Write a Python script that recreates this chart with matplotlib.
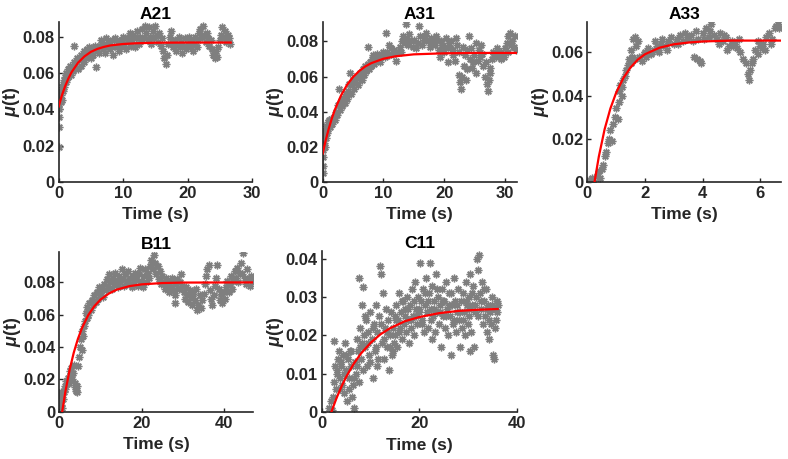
import matplotlib
matplotlib.use("Agg")
import matplotlib.pyplot as plt
from matplotlib.ticker import FuncFormatter

plt.rcParams['font.family'] = ['Liberation Sans', 'DejaVu Sans']
plt.rcParams['font.weight'] = 'bold'
plt.rcParams['mathtext.fontset'] = 'custom'
plt.rcParams['mathtext.rm'] = 'Liberation Sans:bold'
plt.rcParams['mathtext.it'] = 'Liberation Sans:italic:bold'

# ---------------- data ----------------
titles = ["A21", "A31", "A33", "B11", "C11"]

a21_pts = [(0,0.019),(0,0.030),(0.05,0.036),(0.1,0.040),(0.1,0.043),(0.2,0.046),(0.2,0.050),(0.3,0.044),
 (0.4,0.048),(0.5,0.052),(0.5,0.045),(0.6,0.054),(0.7,0.050),(0.8,0.056),(0.9,0.052),(1.0,0.058),(1.1,0.055),
 (1.2,0.060),(1.3,0.057),(1.4,0.062),(1.5,0.058),(1.6,0.061),(1.8,0.064),(1.9,0.059),(2.0,0.063),(2.2,0.061),
 (2.4,0.075),(2.4,0.066),(2.6,0.064),(2.8,0.068),(3.0,0.062),(3.2,0.067),(3.4,0.070),(3.5,0.064),(3.7,0.069),
 (3.9,0.066),(4.0,0.072),(4.2,0.068),(4.4,0.073),(4.5,0.070),(4.7,0.074),(4.9,0.071),(5.0,0.068),(5.2,0.073),
 (5.4,0.070),(5.6,0.075),(5.8,0.063),(6.0,0.072),(6.2,0.071),(6.4,0.075),(6.6,0.078),(6.8,0.073),(7.0,0.076),
 (7.2,0.071),(7.4,0.079),(7.6,0.074),(7.8,0.077),(8.0,0.073),(8.2,0.078),(8.4,0.070),(8.6,0.075),(8.8,0.079),
 (9.0,0.074),(9.2,0.077),(9.4,0.072),(9.6,0.078),(9.8,0.075),(10.0,0.080),(10.2,0.076),(10.4,0.073),(10.6,0.079),
 (10.8,0.077),(11.0,0.082),(11.2,0.075),(11.4,0.078),(11.6,0.081),(11.8,0.074),(12.0,0.079),(12.2,0.083),
 (12.4,0.076),(12.6,0.080),(12.8,0.078),(13.0,0.084),(13.2,0.079),(13.4,0.086),(13.6,0.082),(13.8,0.078),
 (14.0,0.085),(14.2,0.080),(14.4,0.076),(14.6,0.083),(14.8,0.079),(15.0,0.086),(15.2,0.081),(15.4,0.077),
 (15.6,0.082),(15.8,0.075),(16.0,0.079),(16.2,0.072),(16.4,0.068),(16.6,0.065),(16.8,0.070),(17.0,0.076),
 (17.2,0.080),(17.4,0.083),(17.6,0.077),(17.8,0.074),(18.0,0.078),(18.2,0.072),(18.4,0.076),(18.6,0.080),
 (18.8,0.074),(19.0,0.077),(19.2,0.071),(19.4,0.075),(19.6,0.079),(19.8,0.073),(20.0,0.076),(20.2,0.080),
 (20.4,0.074),(20.6,0.078),(20.8,0.072),(21.0,0.076),(21.2,0.080),(21.4,0.074),(21.6,0.078),(21.8,0.082),
 (22.0,0.084),(22.2,0.080),(22.4,0.086),(22.6,0.081),(22.8,0.077),(23.0,0.082),(23.2,0.079),(23.4,0.075),
 (23.6,0.078),(23.8,0.073),(24.0,0.070),(24.2,0.068),(24.4,0.072),(24.6,0.069),(24.8,0.074),(25.0,0.078),
 (25.2,0.081),(25.4,0.085),(25.6,0.079),(25.8,0.083),(26.0,0.077),(26.2,0.081),(26.4,0.079),(26.6,0.076)]
a21_fit_t = [0, 0.5, 1, 1.5, 2, 3, 4, 5, 6, 7, 8, 10, 12, 15, 20, 26.7]
a21_fit_y = [0.0415, 0.0477, 0.0527, 0.0569, 0.0604, 0.0656, 0.0691, 0.0716, 0.0732, 0.0743, 0.0751,
             0.0759, 0.0763, 0.0766, 0.0767, 0.0767]

a31_pts = [(0,0.005),(0,0.009),(0.05,0.014),(0.1,0.018),(0.15,0.022),(0.2,0.026),(0.3,0.020),(0.4,0.029),
 (0.5,0.025),(0.6,0.032),(0.7,0.028),(0.8,0.034),(0.9,0.030),(1.0,0.035),(1.2,0.031),(1.4,0.036),(1.6,0.033),
 (1.8,0.037),(2.0,0.035),(2.2,0.040),(2.4,0.038),(2.6,0.044),(2.7,0.053),(2.8,0.041),(3.0,0.046),(3.2,0.043),
 (3.4,0.048),(3.6,0.045),(3.8,0.050),(4.0,0.047),(4.2,0.052),(4.4,0.056),(4.5,0.062),(4.6,0.050),(4.8,0.055),
 (5.0,0.058),(5.2,0.053),(5.4,0.057),(5.6,0.060),(5.8,0.055),(6.0,0.059),(6.2,0.062),(6.4,0.058),(6.6,0.064),
 (6.8,0.061),(7.0,0.066),(7.2,0.063),(7.4,0.067),(7.5,0.077),(7.6,0.064),(7.8,0.068),(8.0,0.066),(8.2,0.070),
 (8.4,0.067),(8.6,0.071),(8.8,0.069),(9.0,0.073),(9.3,0.070),(9.6,0.072),(9.9,0.074),(10.2,0.071),(10.5,0.085),
 (10.6,0.074),(10.9,0.072),(11.2,0.076),(11.5,0.073),(11.8,0.075),(12.1,0.069),(12.4,0.074),(12.7,0.077),
 (13.0,0.080),(13.2,0.083),(13.5,0.079),(13.7,0.090),(13.9,0.082),(14.2,0.084),(14.5,0.080),(14.8,0.077),
 (15.1,0.081),(15.4,0.076),(15.7,0.079),(15.9,0.089),(16.1,0.083),(16.4,0.078),(16.7,0.081),(17.0,0.085),
 (17.3,0.080),(17.6,0.077),(17.9,0.082),(18.2,0.080),(18.5,0.078),(18.8,0.081),(19.1,0.075),(19.4,0.071),
 (19.7,0.078),(20.0,0.074),(20.3,0.082),(20.6,0.068),(20.9,0.076),(21.2,0.080),(21.5,0.072),(21.8,0.069),
 (22.1,0.078),(22.4,0.061),(22.6,0.057),(22.8,0.053),(23.0,0.060),(23.2,0.066),(23.4,0.072),(23.6,0.058),
 (23.8,0.075),(24.1,0.083),(24.3,0.070),(24.6,0.065),(24.9,0.072),(25.2,0.062),(25.5,0.069),(25.8,0.075),
 (26.1,0.078),(26.4,0.066),(26.7,0.060),(27.0,0.056),(27.2,0.052),(27.4,0.058),(27.6,0.065),(27.9,0.070),
 (28.2,0.073),(28.5,0.071),(28.8,0.074),(29.1,0.072),(29.4,0.070),(29.7,0.073),(30.0,0.076),(30.3,0.079),
 (30.6,0.083),(30.9,0.085),(31.2,0.080),(31.5,0.077),(31.8,0.075),
 (19.5,0.080),(20.1,0.077),(20.8,0.079),(21.4,0.075),(22.0,0.082),(22.5,0.074),(23.1,0.077),(23.7,0.064),
 (24.4,0.076),(24.8,0.068),(25.3,0.079),(25.9,0.071),(26.2,0.073),(26.9,0.068),(27.5,0.062),(28.0,0.074),
 (28.7,0.076),(29.3,0.074),(29.9,0.071),(30.5,0.074),(31.0,0.078),(31.6,0.083),(16.9,0.083),(17.8,0.079),
 (18.6,0.083),(14.0,0.078),(12.9,0.074),(11.0,0.078),(9.5,0.068),(8.3,0.072)]
a31_fit_t = [0, 0.5, 1, 1.5, 2, 3, 4, 5, 6, 7, 8, 10, 12, 15, 20, 25, 32]
a31_fit_y = [0.0162, 0.0238, 0.0304, 0.0361, 0.0411, 0.0491, 0.0552, 0.0597, 0.0631, 0.0657, 0.0676,
             0.0701, 0.0715, 0.0726, 0.0732, 0.0734, 0.0734]

a33_pts = [(0.05,0.001),(0.1,0.0),(0.15,0.002),(0.2,0.001),(0.35,0.003),(0.4,0.005),(0.45,0.002),(0.5,0.006),
 (0.55,0.008),(0.6,0.012),(0.65,0.014),(0.7,0.018),(0.75,0.020),(0.8,0.024),(0.85,0.019),(0.9,0.027),
 (0.95,0.030),(1.0,0.034),(1.05,0.029),(1.1,0.037),(1.1,0.042),(1.15,0.045),(1.2,0.044),(1.25,0.047),
 (1.3,0.049),(1.35,0.052),(1.4,0.054),(1.45,0.057),(1.5,0.061),(1.55,0.058),(1.6,0.066),(1.65,0.067),
 (1.7,0.063),(1.75,0.065),(1.65,0.057),(1.8,0.058),(1.9,0.056),(1.95,0.059),(2.0,0.060),(2.1,0.062),
 (2.2,0.059),(2.3,0.061),(2.35,0.065),(2.4,0.063),(2.5,0.060),(2.55,0.064),(2.6,0.066),(2.7,0.063),
 (2.8,0.065),(2.9,0.067),(3.0,0.064),(3.1,0.066),(3.2,0.068),(3.3,0.065),(3.4,0.069),(3.5,0.067),
 (3.7,0.058),(3.8,0.057),(3.9,0.056),(3.95,0.055),(3.6,0.068),(3.75,0.070),(3.85,0.066),(4.0,0.069),
 (4.1,0.071),(4.2,0.067),(4.3,0.073),(4.4,0.068),(4.5,0.066),(4.6,0.069),(4.7,0.065),(4.8,0.067),
 (4.85,0.061),(4.9,0.063),(5.0,0.065),(5.1,0.064),(5.2,0.062),(5.3,0.060),(5.4,0.057),(5.5,0.055),
 (5.55,0.050),(5.6,0.047),(5.65,0.052),(5.75,0.057),(5.8,0.061),(5.9,0.059),(5.9,0.065),(6.0,0.063),
 (6.05,0.062),(6.1,0.064),(6.2,0.067),(6.3,0.069),(6.4,0.066),(6.5,0.071),(6.55,0.072),(6.6,0.073),
 (6.65,0.071),
 (1.2,0.040),(1.5,0.055),(2.05,0.058),(2.25,0.060),(2.45,0.062),(2.75,0.061),(3.15,0.064),(3.45,0.066),
 (3.65,0.065),(4.05,0.066),(4.25,0.070),(4.55,0.064),(4.75,0.068),(5.05,0.063),(5.25,0.066),(5.7,0.055),
 (6.15,0.061),(6.35,0.064)]
a33_fit_t = [0.25, 0.4, 0.6, 0.8, 1.0, 1.25, 1.5, 1.75, 2.0, 2.5, 3.0, 3.5, 4.0, 5.0, 6.7]
a33_fit_y = [0.0, 0.0118, 0.0244, 0.0340, 0.0413, 0.0481, 0.0530, 0.0566, 0.0591, 0.0621, 0.0637,
             0.0645, 0.0650, 0.0654, 0.0654]

b11_pts = [(0.1,0.010),(0.2,0.006),(0.3,0.012),(0.5,0.004),(0.7,0.002),(0.9,0.008),(1.1,0.012),(1.3,0.016),
 (1.5,0.014),(1.7,0.019),(1.9,0.017),(2.1,0.021),(2.3,0.018),(2.5,0.025),(2.7,0.022),(2.9,0.027),(3.1,0.020),
 (3.3,0.024),(3.5,0.029),(3.7,0.018),(3.9,0.015),(4.0,0.013),(4.2,0.012),(4.4,0.016),(4.6,0.028),(4.8,0.034),
 (5.0,0.040),(5.2,0.045),(5.4,0.038),(5.6,0.050),(5.8,0.047),(6.0,0.053),(6.2,0.056),(6.4,0.061),(6.6,0.058),
 (6.8,0.065),(7.0,0.060),(7.3,0.067),(7.6,0.063),(7.9,0.069),(8.2,0.066),(8.5,0.072),(8.8,0.068),(9.1,0.074),
 (9.4,0.070),(9.7,0.077),(10.0,0.072),(10.3,0.076),(10.6,0.071),(10.9,0.079),(11.2,0.075),(11.5,0.082),
 (11.8,0.078),(12.1,0.085),(12.4,0.080),(12.7,0.076),(13.0,0.083),(13.3,0.079),(13.6,0.086),(13.9,0.081),
 (14.2,0.077),(14.5,0.084),(14.8,0.080),(15.1,0.088),(15.4,0.082),(15.7,0.078),(16.0,0.085),(16.3,0.081),
 (16.6,0.087),(16.9,0.079),(17.2,0.083),(17.5,0.077),(17.8,0.084),(18.1,0.080),(18.4,0.086),(18.7,0.082),
 (19.0,0.078),(19.3,0.085),(19.6,0.089),(19.9,0.081),(20.2,0.077),(20.5,0.084),(20.8,0.088),(21.1,0.080),
 (21.4,0.086),(21.7,0.083),(22.0,0.090),(22.3,0.094),(22.6,0.088),(22.9,0.097),(23.2,0.092),(23.5,0.085),
 (23.8,0.090),(24.1,0.082),(24.4,0.087),(24.7,0.079),(25.0,0.084),(25.3,0.080),(25.6,0.076),(25.9,0.083),
 (26.2,0.078),(26.5,0.074),(26.8,0.081),(27.1,0.077),(27.4,0.083),(27.7,0.075),(28.0,0.072),(28.1,0.067),
 (28.3,0.079),(28.6,0.082),(28.9,0.076),(29.2,0.080),(29.5,0.085),(29.8,0.078),(30.1,0.074),(30.4,0.070),
 (30.7,0.077),(31.0,0.072),(31.3,0.068),(31.6,0.075),(31.9,0.071),(32.2,0.066),(32.5,0.073),(32.8,0.069),
 (33.1,0.076),(33.4,0.063),(33.7,0.066),(34.0,0.072),(34.3,0.064),(34.6,0.069),(35.0,0.073),(35.3,0.079),
 (35.6,0.084),(35.9,0.088),(36.2,0.091),(36.5,0.075),(36.8,0.070),(37.1,0.066),(37.4,0.072),(37.7,0.078),
 (38.0,0.083),(38.3,0.091),(38.6,0.076),(38.9,0.069),(39.2,0.073),(39.5,0.067),(39.8,0.074),(40.1,0.070),
 (40.4,0.077),(40.7,0.081),(41.0,0.074),(41.3,0.079),(41.6,0.084),(41.9,0.076),(42.2,0.081),(42.5,0.087),
 (42.8,0.083),(43.1,0.089),(43.4,0.080),(43.7,0.086),(44.0,0.092),(44.3,0.085),(44.6,0.098),(44.9,0.083),
 (45.2,0.079),(45.5,0.088),(45.8,0.082),(46.1,0.078),(46.4,0.084),(46.7,0.080),(47.0,0.083)]
b11_fit_t = [0.7, 1.5, 2.5, 3.5, 4.5, 5.5, 7, 8.5, 10, 12, 14, 17, 20, 25, 30, 47]
b11_fit_y = [0.0, 0.0128, 0.0259, 0.0365, 0.0450, 0.0518, 0.0597, 0.0653, 0.0694, 0.0731, 0.0756,
             0.0777, 0.0788, 0.0796, 0.0799, 0.0800]

c11_pts = [(1.5,0.001),(1.8,0.003),(2.0,0.0005),(2.2,0.004),(2.4,0.0185),(2.5,0.008),(2.7,0.012),(2.9,0.006),
 (3.1,0.010),(3.3,0.014),(3.5,0.016),(3.7,0.009),(3.9,0.012),(4.1,0.007),(4.3,0.015),(4.5,0.005),(4.7,0.018),
 (4.9,0.011),(5.1,0.003),(5.3,0.014),(5.5,0.009),(5.7,0.016),(5.9,0.012),(6.1,0.004),(6.3,0.007),(6.5,0.001),
 (6.7,0.013),(6.9,0.010),(7.1,0.019),(7.5,0.035),(7.3,0.016),(7.7,0.008),(7.9,0.022),(8.1,0.014),(8.3,0.028),
 (8.5,0.0325),(8.5,0.011),(8.7,0.020),(8.9,0.017),(9.1,0.024),(9.3,0.012),(9.5,0.021),(9.7,0.015),(9.9,0.026),
 (10.2,0.019),(10.4,0.009),(10.6,0.023),(10.8,0.016),(11.0,0.028),(11.2,0.012),(11.4,0.021),(11.7,0.025),
 (12.0,0.038),(12.1,0.036),(12.3,0.018),(12.5,0.031),(12.7,0.014),(12.9,0.022),(13.1,0.027),(13.3,0.017),
 (13.5,0.024),(13.7,0.011),(13.9,0.020),(14.1,0.026),(14.3,0.015),(14.5,0.022),(14.7,0.018),(14.9,0.025),
 (15.1,0.020),(15.3,0.028),(15.5,0.017),(15.7,0.024),(15.9,0.031),(16.1,0.022),(16.3,0.026),(16.5,0.019),
 (16.7,0.029),(16.9,0.023),(17.1,0.027),(17.3,0.021),(17.5,0.030),(17.7,0.024),(17.9,0.018),(18.1,0.028),
 (18.3,0.022),(18.5,0.032),(18.7,0.025),(18.9,0.020),(19.1,0.034),(19.3,0.027),(19.5,0.023),(19.7,0.030),
 (19.9,0.026),(20.1,0.039),(20.3,0.029),(20.5,0.024),(20.7,0.032),(20.9,0.021),(21.1,0.028),(21.3,0.035),
 (21.5,0.026),(21.7,0.022),(21.9,0.031),(22.1,0.039),(22.3,0.027),(22.5,0.019),(22.7,0.033),(22.9,0.025),
 (23.1,0.029),(23.3,0.021),(23.5,0.036),(23.7,0.026),(23.9,0.030),(24.1,0.023),(24.3,0.028),(24.5,0.017),
 (24.7,0.032),(24.9,0.025),(25.1,0.029),(25.3,0.022),(25.5,0.034),(25.7,0.027),(25.9,0.020),(26.1,0.031),
 (26.3,0.025),(26.5,0.015),(26.7,0.028),(26.9,0.023),(27.1,0.035),(27.3,0.029),(27.5,0.021),(27.7,0.026),
 (27.9,0.032),(28.1,0.024),(28.3,0.017),(28.5,0.029),(28.7,0.022),(28.9,0.031),(29.1,0.026),(29.3,0.020),
 (29.5,0.034),(29.7,0.028),(29.9,0.023),(30.1,0.030),(30.3,0.025),(30.5,0.016),(30.5,0.036),(30.7,0.021),
 (30.9,0.028),(31.1,0.033),(31.3,0.017),(31.5,0.026),(31.7,0.030),(31.9,0.040),(32.1,0.037),(32.3,0.041),
 (32.5,0.031),(32.7,0.027),(32.9,0.034),(33.1,0.023),(33.3,0.029),(33.5,0.025),(33.7,0.032),(33.9,0.021),
 (34.1,0.028),(34.3,0.019),(34.5,0.026),(34.7,0.023),(34.9,0.030),(35.1,0.015),(35.3,0.014),(35.5,0.027),
 (35.7,0.024),(35.9,0.029),(36.1,0.028),
 (3.0,0.011),(3.6,0.006),(4.0,0.013),(4.6,0.010),(5.0,0.015),(5.6,0.006),(6.0,0.016),(6.6,0.009),(7.2,0.012),
 (7.8,0.017),(8.2,0.018),(8.8,0.025),(9.4,0.018),(9.8,0.013),(10.5,0.022),(11.1,0.017),(11.6,0.014),(12.2,0.023),
 (12.8,0.019),(13.4,0.021),(14.0,0.017),(14.6,0.016),(15.2,0.024),(15.8,0.021),(16.4,0.029),(17.0,0.025),
 (17.6,0.027),(18.2,0.024),(18.8,0.029),(19.4,0.025),(20.0,0.027),(20.6,0.023),(21.2,0.031),(21.8,0.029),
 (22.4,0.024),(23.0,0.027),(23.6,0.032),(24.2,0.026),(24.8,0.029),(25.4,0.025),(26.0,0.028),(26.6,0.031),
 (27.2,0.024),(27.8,0.028),(28.4,0.026),(29.0,0.024),(29.6,0.029),(30.2,0.027),(30.8,0.031),(31.4,0.028),
 (32.0,0.025),(32.6,0.029),(33.2,0.032),(33.8,0.027),(34.4,0.024),(35.0,0.028),(35.6,0.022),(36.0,0.026)]
c11_fit_t = [1.9, 3, 4, 5, 6.5, 8, 10, 12, 14, 17, 20, 24, 28, 32, 36.1]
c11_fit_y = [0.0, 0.00375, 0.0067, 0.0093, 0.0126, 0.0153, 0.0181, 0.0203, 0.0219, 0.0237, 0.0248,
             0.0258, 0.0264, 0.0267, 0.0269]

xlims = [(0, 30), (0, 32), (0, 6.7), (0, 47), (0, 40)]
ylims = [(0, 0.088), (0, 0.091), (0, 0.074), (0, 0.099), (0, 0.042)]
xticks = [[0, 10, 20, 30], [0, 10, 20, 30], [0, 2, 4, 6], [0, 20, 40], [0, 20, 40]]
yticks = [[0, 0.02, 0.04, 0.06, 0.08], [0, 0.02, 0.04, 0.06, 0.08], [0, 0.02, 0.04, 0.06],
          [0, 0.02, 0.04, 0.06, 0.08], [0, 0.01, 0.02, 0.03, 0.04]]

all_pts = [a21_pts, a31_pts, a33_pts, b11_pts, c11_pts]
all_fit = [(a21_fit_t, a21_fit_y), (a31_fit_t, a31_fit_y), (a33_fit_t, a33_fit_y),
           (b11_fit_t, b11_fit_y), (c11_fit_t, c11_fit_y)]

# ---------------- layout ----------------
W, H = 788, 459
boxes = [  # left, bottom, right, top in pixels (top-left origin)
    (58.7, 182, 252, 22),
    (322.7, 182, 517, 22),
    (587.3, 182, 780.7, 22),
    (59.3, 411.7, 253.3, 251.7),
    (322, 412.3, 516.7, 251),
]

fig = plt.figure(figsize=(W / 100, H / 100), dpi=100)
axcol = '#262626'
fmt = FuncFormatter(lambda v, p: '%g' % v)

for i, (l, b, r, t) in enumerate(boxes):
    ax = fig.add_axes([l / W, 1 - b / H, (r - l) / W, (b - t) / H])
    pts = all_pts[i]
    xs = [p[0] for p in pts]
    ys = [p[1] for p in pts]
    ax.plot(xs, ys, linestyle='none', marker=(8, 2, 0), markersize=5.5,
            markeredgewidth=1.0, color='#7f7f7f', zorder=2)
    ft, fy = all_fit[i]
    ax.plot(ft, fy, color='red', lw=1.6, zorder=3)
    ax.set_xlim(*xlims[i])
    ax.set_ylim(*ylims[i])
    ax.set_xticks(xticks[i])
    ax.set_yticks(yticks[i])
    ax.xaxis.set_major_formatter(fmt)
    ax.yaxis.set_major_formatter(fmt)
    for s in ['top', 'right']:
        ax.spines[s].set_visible(False)
    for s in ['left', 'bottom']:
        ax.spines[s].set_linewidth(1.2)
        ax.spines[s].set_color(axcol)
    ax.tick_params(direction='in', length=3, width=1.0, color=axcol,
                   labelsize=12, labelcolor=axcol, pad=3)
    for lab in ax.get_xticklabels() + ax.get_yticklabels():
        lab.set_fontweight('bold')
    ax.set_title(titles[i], fontsize=12.5, fontweight='bold', color='black', pad=2)
    ax.set_xlabel('Time (s)', fontsize=12.5, fontweight='bold', color=axcol, labelpad=4.5)
    ax.set_ylabel(r'$\mu$(t)', fontsize=13, fontweight='bold', color=axcol, labelpad=0)
    ax.set_facecolor('white')

fig.savefig('out.png', dpi=100)
